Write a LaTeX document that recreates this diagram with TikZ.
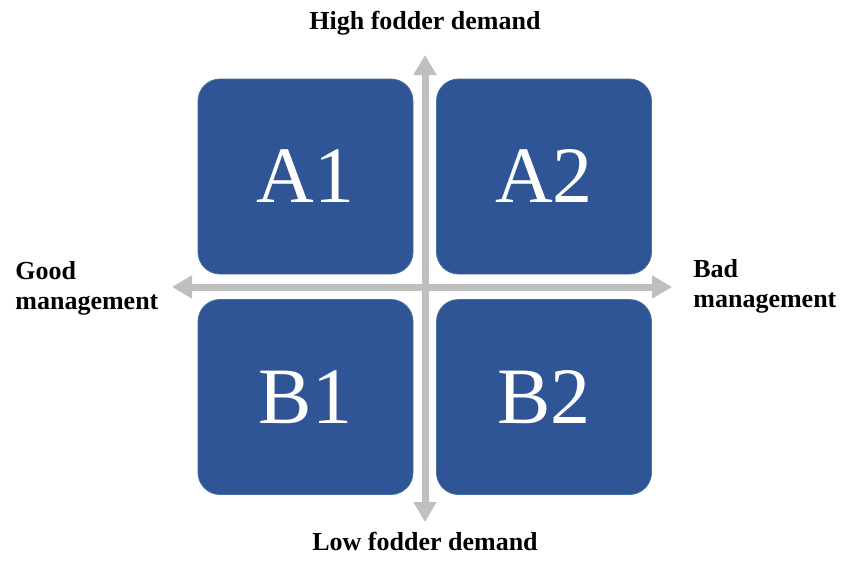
\documentclass[tikz,border=0pt]{standalone}
\usepackage{fontspec}
\setmainfont{Liberation Serif}
\usepackage{xcolor}
\usetikzlibrary{shapes,arrows,arrows.meta,positioning,calc}

\definecolor{quadblue}{RGB}{47,85,151}
\definecolor{quadedge}{RGB}{65,113,156}
\definecolor{axisgray}{RGB}{191,191,191}

\begin{document}
\begin{tikzpicture}[x=0.5pt,y=-0.5pt]
  \tikzstyle{quad}=[rectangle, rounded corners=11pt, draw=quadedge, fill=quadblue, minimum width=107.5pt, minimum height=97.5pt, text=white, font=\fontsize{40}{42}\selectfont]
  \tikzstyle{axislabel}=[font=\fontsize{13}{15}\selectfont\bfseries, inner sep=0pt]
  \tikzstyle{axis}=[{Triangle[width=11pt,length=10pt]}-{Triangle[width=11pt,length=10pt]}, line width=3.5pt, axisgray]

  \useasboundingbox (0,0) rectangle (843,563);

  % Cuadrantes
  \node[quad] (a1) at (305.5,176.5) {A1};
  \node[quad] (a2) at (544,176.5) {A2};
  \node[quad] (b1) at (305.5,397) {B1};
  \node[quad] (b2) at (544,397) {B2};

  % Extremos de los ejes
  \coordinate (top) at (425,55);
  \coordinate (bottom) at (425,522);
  \coordinate (left) at (172,287);
  \coordinate (right) at (672,287);

  % Ejes
  \draw[axis] (bottom) -- (top);
  \draw[axis] (left) -- (right);

  % Etiquetas
  \node[axislabel] (high) at (425,23) {High fodder demand};
  \node[axislabel] (low) at (425,541) {Low fodder demand};
  \node[axislabel, anchor=west, align=left] (good) at (15,288) {Good\\management};
  \node[axislabel, anchor=west, align=left] (bad) at (693,286) {Bad\\management};
\end{tikzpicture}
\end{document}
